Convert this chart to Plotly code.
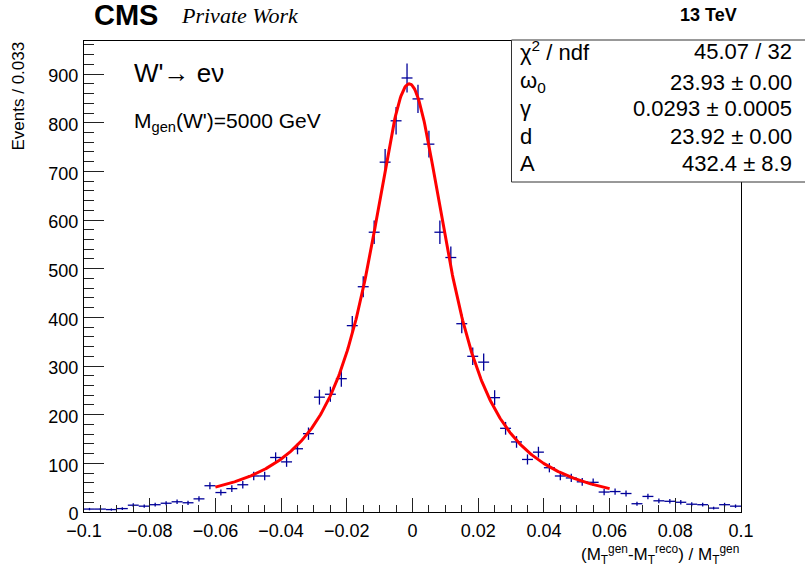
import numpy as np
import plotly.graph_objects as go

# ---------------- data ----------------
X_MIN, X_MAX, N_BINS = -0.1, 0.1, 60
counts = [6, 6, 5, 7, 14, 12, 15, 18, 21, 19,
          27, 54, 40, 48, 56, 74, 74, 112, 103, 130,
          161, 236, 242, 274, 383, 463, 575, 719, 804, 892,
          849, 756, 575, 523, 387, 320, 308, 235, 172, 144,
          108, 123, 91, 74, 70, 62, 61, 41, 42, 38,
          17, 32, 23, 22, 20, 16, 15, 8, 15, 12]

# fit (Lorentzian shape) parameters as drawn
fit_center = -0.001
fit_gamma = 0.0293
fit_peak = 880.0
fit_range = (-0.06, 0.06)

stat_labels = ["χ<sup>2</sup> / ndf", "ω<sub>0</sub>", "γ", "d", "A"]
stat_values = ["45.07 / 32", "23.93 ± 0.00", "0.0293 ± 0.0005", "23.92 ± 0.00", "432.4 ± 8.9"]

x_ticks = [-0.1, -0.08, -0.06, -0.04, -0.02, 0, 0.02, 0.04, 0.06, 0.08, 0.1]
y_ticks = [0, 100, 200, 300, 400, 500, 600, 700, 800, 900]

# ---------------- derived ----------------
bw = (X_MAX - X_MIN) / N_BINS
centers = X_MIN + (np.arange(N_BINS) + 0.5) * bw
yerr = np.sqrt(np.array(counts, dtype=float))

xf = np.linspace(fit_range[0], fit_range[1], 500)
hw = fit_gamma / 2
yf = fit_peak * hw**2 / ((xf - fit_center)**2 + hw**2)

W, H = 805, 574
L, R, T, B = 84, 64, 41, 62
PW, PH = W - L - R, H - T - B


def px(x):
    return (x - L) / PW


def py(y):
    return (H - B - y) / PH


FONT = "Liberation Sans, Arial, Helvetica, sans-serif"
NAVY = "#000099"

fig = go.Figure()
fig.add_trace(go.Scatter(
    x=centers, y=counts, mode="markers",
    marker=dict(size=1, color=NAVY, opacity=0),
    error_x=dict(type="constant", value=bw / 2, width=0, thickness=1.3, color=NAVY),
    error_y=dict(type="data", array=yerr, width=0, thickness=1.3, color=NAVY),
    showlegend=False, hoverinfo="skip"))
fig.add_trace(go.Scatter(
    x=xf, y=yf, mode="lines", line=dict(color="#ff0000", width=3),
    showlegend=False, hoverinfo="skip"))

fig.update_layout(
    width=W, height=H, margin=dict(l=L, r=R, t=T, b=B),
    paper_bgcolor="white", plot_bgcolor="white",
    font=dict(family=FONT, size=18, color="black"),
    xaxis=dict(range=[X_MIN, X_MAX], tickvals=x_ticks, ticks="inside", ticklen=14,
               tickwidth=1, tickcolor="#222", showgrid=False, zeroline=False,
               showline=True, linecolor="black", linewidth=1, mirror=True,
               minor=dict(dtick=0.005, ticks="inside", ticklen=7, tickcolor="#222", showgrid=False),
               tickfont=dict(size=18), ticklabelstandoff=2),
    yaxis=dict(range=[0, 968], tickvals=y_ticks, ticks="inside", ticklen=20,
               tickwidth=1, tickcolor="#222", showgrid=False, zeroline=False,
               showline=True, linecolor="black", linewidth=1, mirror=True,
               minor=dict(dtick=20, ticks="inside", ticklen=10, tickcolor="#222", showgrid=False),
               tickfont=dict(size=18), ticklabelstandoff=1, ticklabelshift=2),
)

ann = []
# header
ann.append(dict(x=px(92), y=py(15), xref="paper", yref="paper", xanchor="left", yanchor="middle",
                text="<b>CMS</b>", showarrow=False, font=dict(size=29, family=FONT)))
ann.append(dict(x=px(179), y=py(15), xref="paper", yref="paper", xanchor="left", yanchor="middle",
                text="<i>Private Work</i>", showarrow=False,
                font=dict(size=22, family="Liberation Serif, Times New Roman, serif")))
ann.append(dict(x=px(739), y=py(15), xref="paper", yref="paper", xanchor="right", yanchor="middle",
                text="<b>13 TeV</b>", showarrow=False, font=dict(size=18, family=FONT)))
# in-plot labels
ann.append(dict(x=px(132), y=py(73), xref="paper", yref="paper", xanchor="left", yanchor="middle",
                text="W'→ eν", showarrow=False, font=dict(size=26, family=FONT)))
ann.append(dict(x=px(132), y=py(122), xref="paper", yref="paper", xanchor="left", yanchor="middle",
                text="M<sub>gen</sub>(W')=5000 GeV", showarrow=False, font=dict(size=21, family=FONT)))
# axis titles
ann.append(dict(x=px(741), y=py(540), xref="paper", yref="paper", xanchor="right", yanchor="top",
                text="(M<sub>T</sub><sup>gen</sup>-M<sub>T</sub><sup>reco</sup>) / M<sub>T</sub><sup>gen</sup>",
                showarrow=False, font=dict(size=17, family=FONT)))
ann.append(dict(x=px(18), y=py(40), xref="paper", yref="paper", xanchor="center", yanchor="top",
                text="Events / 0.033", textangle=-90, showarrow=False, font=dict(size=17, family=FONT)))

# stats box
box_top, box_bot = 40, 182
fig.add_shape(type="rect", xref="paper", yref="paper", x0=px(511.5), x1=px(812),
              y0=py(box_bot), y1=py(box_top), fillcolor="white",
              line=dict(color="#333", width=1), layer="above")
row_y = [51, 82, 109, 137, 163]
for lab, val, yy in zip(stat_labels, stat_values, row_y):
    ann.append(dict(x=px(518), y=py(yy), xref="paper", yref="paper", xanchor="left", yanchor="middle",
                    text=lab, showarrow=False, font=dict(size=22, family=FONT)))
    ann.append(dict(x=px(794), y=py(yy), xref="paper", yref="paper", xanchor="right", yanchor="middle",
                    text=val, showarrow=False, font=dict(size=22, family=FONT)))

fig.update_layout(annotations=ann)
fig.write_html("out.html")
